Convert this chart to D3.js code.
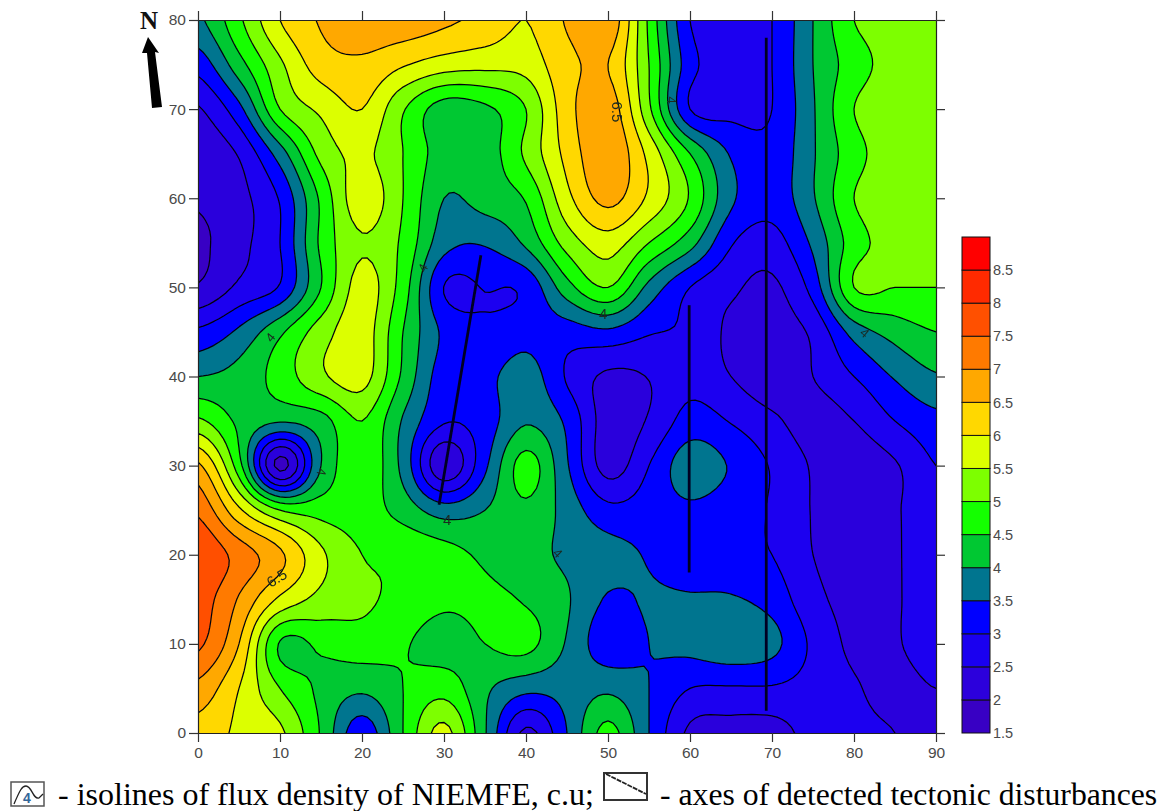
<!DOCTYPE html>
<html><head><meta charset="utf-8">
<script src="https://cdn.jsdelivr.net/npm/d3@7"></script>
<style>html,body{margin:0;padding:0;background:#fff;width:1170px;height:811px;overflow:hidden}</style>
</head><body><svg id="c" width="1170" height="811"></svg>
<script>
const xGrid=[0,5,10,15,20,25,30,35,40,45,50,55,60,65,70,75,80,85,90];
const yGrid=[80,75,70,65,60,55,50,45,40,35,30,25,20,15,10,5,0];
const row80=[3.9,4.9,6.0,6.55,6.8,6.8,6.6,6.35,6.0,6.55,6.9,4.9,3.0,2.8,3.0,4.0,5.0,5.2,5.2];
const row75=[3.2,4.3,5.4,6.25,6.4,6.05,5.75,5.65,5.7,6.35,6.5,5.0,3.2,2.75,3.0,4.0,4.75,5.2,5.2];
const row70=[2.45,3.35,5.0,5.6,6.0,5.05,4.25,4.4,5.0,6.3,6.8,5.1,3.0,2.85,3.0,3.95,5.0,5.3,5.3];
const row65=[2.15,2.55,3.75,5.15,5.6,5.0,4.25,4.25,5.1,6.15,6.9,5.85,4.5,3.45,3.15,3.95,4.8,5.3,5.3];
const row60=[2.05,2.35,3.05,4.6,5.8,5.0,4.0,4.2,4.55,5.85,6.65,5.9,4.95,3.6,3.2,3.95,5.0,5.3,5.3];
const row55=[1.9,2.35,3.0,4.6,5.45,4.9,3.7,3.55,4.1,5.2,5.75,5.0,4.2,3.05,2.8,3.6,4.75,5.2,5.2];
const row50=[2.05,2.6,3.05,4.5,5.7,4.75,2.99,3.02,3.12,4.3,5.0,3.85,3.0,2.6,2.4,3.2,5.0,5.0,5.0];
const row45=[3.1,3.6,4.4,5.25,5.75,4.5,3.4,3.07,3.3,3.25,3.4,3.05,2.9,2.4,2.3,2.6,3.7,4.2,4.5];
const row40=[4.0,4.2,4.7,5.4,5.7,4.4,3.25,3.35,3.75,2.95,2.4,2.52,2.85,2.5,2.2,2.5,3.0,3.55,3.95];
const row35=[5.1,4.4,4.05,4.3,5.0,3.95,3.05,3.25,3.95,3.4,2.25,2.55,3.2,2.97,2.6,2.3,2.5,3.0,3.35];
const row30=[6.6,4.7,1.85,4.0,4.85,3.85,2.1,3.4,4.7,3.55,2.3,3.0,3.8,3.45,2.95,2.45,2.2,2.45,3.0];
const row25=[7.4,6.1,5.0,4.8,4.75,4.3,3.75,4.0,4.4,3.8,3.15,3.25,3.4,3.2,2.95,2.47,2.2,2.45,2.8];
const row20=[7.95,7.3,6.6,5.6,5.0,4.9,4.7,4.4,4.2,3.9,3.7,3.45,3.2,3.1,3.0,2.5,2.3,2.45,2.8];
const row15=[7.75,6.95,5.9,5.35,5.1,4.85,4.6,4.6,4.45,4.05,3.45,3.55,3.55,3.55,3.3,2.65,2.35,2.45,2.8];
const row10=[7.6,6.5,4.45,4.6,4.75,4.55,4.3,4.5,4.65,3.95,3.2,3.5,3.65,3.85,3.65,2.9,2.4,2.45,2.8];
const row05=[6.85,6.0,5.0,4.4,4.1,4.5,4.8,4.1,3.65,3.7,3.9,3.5,3.0,2.95,2.95,2.8,2.55,2.35,2.5];
const row00=[6.3,5.9,5.6,4.45,3.2,4.5,5.65,4.05,2.4,3.5,4.65,3.5,2.4,2.3,2.3,2.65,2.6,2.5,2.3];
const rows=[row80,row75,row70,row65,row60,row55,row50,row45,row40,row35,row30,row25,row20,row15,row10,row05,row00];
const levels=[1.5,2,2.5,3,3.5,4,4.5,5,5.5,6,6.5,7,7.5,8,8.5];
const bandColors=["#3800c4","#2c00dc","#1a00f0","#0000ff","#00758f","#00c832","#14ff00","#7dff00","#dcff00","#ffd800","#ffa800","#ff7a00","#ff5000","#ff2a00","#ff0000"];
const xTicks=[0,10,20,30,40,50,60,70,80,90];
const yTicks=[0,10,20,30,40,50,60,70,80];
const barTicks=[1.5,2,2.5,3,3.5,4,4.5,5,5.5,6,6.5,7,7.5,8,8.5];
const faultA=[[29.4,25.6],[34.5,53.6]];
const faultB=[[59.9,48],[59.9,18]];
const faultC=[[69.3,78],[69.3,2.5]];
const labelText=["6.5","6.5","4","4","4","4","4","4","4","4"];
const labelX=[51.2,9.6,49.4,30.4,57.8,27.4,8.8,15.1,43.9,81.3];
const labelY=[69.7,17.4,47.1,24,71,52.2,44.4,29.3,20.2,44.9];
const labelRot=[90,-32,0,0,90,-60,-50,100,45,40];

const svg=d3.select("#c");
const x=d3.scaleLinear().domain([0,90]).range([198,936]);
const y=d3.scaleLinear().domain([0,80]).range([733,20]);
const bar=d3.scaleLinear().domain([1.5,9]).range([733,237]);

const K=8,nx=xGrid.length,ny=yGrid.length;
const cr=(a,b,c,d,t)=>0.5*(2*b+(c-a)*t+(2*a-5*b+4*c-d)*t*t+(3*b-a-3*c+d)*t*t*t);
const at=(i,j)=>rows[Math.max(0,Math.min(ny-1,j))][Math.max(0,Math.min(nx-1,i))];
function sample(u,v){
  const i=Math.min(nx-2,Math.floor(u)),j=Math.min(ny-2,Math.floor(v)),tu=u-i,tv=v-j;
  const r=[-1,0,1,2].map(dj=>cr(at(i-1,j+dj),at(i,j+dj),at(i+1,j+dj),at(i+2,j+dj),tu));
  return cr(r[0],r[1],r[2],r[3],tv);
}
const fw=(nx-1)*K+1,fh=(ny-1)*K+1,fine=new Float64Array(fw*fh);
for(let b=0;b<fh;b++)for(let a=0;a<fw;a++)fine[b*fw+a]=sample(a/K,b/K);
const contours=d3.contours().size([fw,fh]).thresholds(levels).smooth(true)(fine);
const proj=d3.geoTransform({point(px,py){
  this.stream.point(x((px-0.5)/K*5),y(80-(py-0.5)/K*5));
}});
const path=d3.geoPath(proj);

const defs=svg.append("defs");
defs.append("clipPath").attr("id","plot").append("rect")
  .attr("x",x(0)).attr("y",y(80)).attr("width",x(90)-x(0)).attr("height",y(0)-y(80));
defs.append("filter").attr("id","soft").append("feGaussianBlur").attr("stdDeviation",0.45);

const plot=svg.append("g").attr("clip-path","url(#plot)").append("g").attr("filter","url(#soft)");
plot.append("rect").attr("x",x(0)).attr("y",y(80)).attr("width",x(90)-x(0)).attr("height",y(0)-y(80)).attr("fill",bandColors[0]);
plot.selectAll("path.fill").data(contours).join("path").attr("class","fill")
  .attr("d",path).attr("fill",(d,i)=>bandColors[i]).attr("stroke","none");
plot.selectAll("path.line").data(contours.slice(1)).join("path").attr("class","line")
  .attr("d",path).attr("fill","none").attr("stroke","#06060c").attr("stroke-width",1.25);

const line=d3.line().x(d=>x(d[0])).y(d=>y(d[1]));
plot.selectAll("path.fault").data([faultA,faultB,faultC]).join("path").attr("class","fault")
  .attr("d",line).attr("fill","none").attr("stroke","#000024").attr("stroke-width",2.8);

plot.selectAll("text.cl").data(labelText).join("text").attr("class","cl")
  .attr("transform",(d,i)=>`translate(${x(labelX[i])},${y(labelY[i])}) rotate(${labelRot[i]})`)
  .attr("text-anchor","middle").attr("dy","0.36em")
  .attr("font-family","Liberation Sans, Arial, sans-serif").attr("font-size",(d,i)=>i<4?15:13)
  .attr("fill","#1a2a20").text(d=>d);

function styleAxis(g){
  g.selectAll("path.domain").attr("stroke","#222").attr("stroke-width",1.2);
  g.selectAll(".tick line").attr("stroke","#333").attr("stroke-width",1.2);
  g.selectAll("text").attr("font-family","Liberation Sans, Arial, sans-serif").attr("font-size",15.5).attr("fill","#4a4a4a");
}
svg.append("g").attr("transform",`translate(0,${y(0)})`)
  .call(d3.axisBottom(x).tickValues(xTicks).tickSize(9).tickSizeOuter(0).tickPadding(5).tickFormat(d3.format("d"))).call(styleAxis);
svg.append("g").attr("transform",`translate(0,${y(80)})`)
  .call(d3.axisTop(x).tickValues(xTicks).tickSize(9).tickSizeOuter(0).tickFormat("")).call(styleAxis);
svg.append("g").attr("transform",`translate(${x(0)},0)`)
  .call(d3.axisLeft(y).tickValues(yTicks).tickSize(9).tickSizeOuter(0).tickPadding(3).tickFormat(d3.format("d"))).call(styleAxis);
svg.append("g").attr("transform",`translate(${x(90)},0)`)
  .call(d3.axisRight(y).tickValues(yTicks).tickSize(9).tickSizeOuter(0).tickFormat("")).call(styleAxis);

const cb=svg.append("g");
cb.selectAll("rect").data(levels).join("rect")
  .attr("x",962).attr("width",28)
  .attr("y",d=>bar(d+0.5)).attr("height",d=>bar(d)-bar(d+0.5))
  .attr("fill",(d,i)=>bandColors[i]).attr("stroke","#111").attr("stroke-width",1);
cb.selectAll("text").data(barTicks).join("text")
  .attr("x",993).attr("y",d=>bar(d)).attr("dy","0.36em")
  .attr("font-family","Liberation Sans, Arial, sans-serif").attr("font-size",14.5).attr("fill","#4a4a4a")
  .text(d=>d);

svg.append("text").attr("x",149).attr("y",29).attr("text-anchor","middle")
  .attr("font-family","Liberation Serif, Times New Roman, serif").attr("font-weight","bold").attr("font-size",25).attr("fill","#111").text("N");
svg.append("path").attr("fill","#000")
  .attr("d","M148,37 L159,53 L155,52 L162,107 L152,108 L147,53 L142,53 Z");

const leg=svg.append("g").attr("font-family","Liberation Serif, Times New Roman, serif").attr("font-size",32).attr("fill","#000");
leg.append("text").attr("x",58).attr("y",805).text("- isolines of flux density of NIEMFE, c.u;");
leg.append("text").attr("x",660).attr("y",805).attr("font-size",31.7).text("- axes of detected tectonic disturbances");
leg.append("rect").attr("x",11).attr("y",782).attr("width",33).attr("height",24).attr("fill","#fff").attr("stroke","#555").attr("stroke-width",1.5);
leg.append("path").attr("d","M14,804 C20,790 22,786 26,786 C32,786 33,800 39,798 L43,794").attr("fill","none").attr("stroke","#222").attr("stroke-width",1.3);
leg.append("text").attr("x",27).attr("y",803).attr("text-anchor","middle").attr("font-family","Liberation Sans, Arial, sans-serif").attr("font-size",14).attr("font-weight","bold").attr("fill","#336699").text("4");
leg.append("rect").attr("x",604).attr("y",773).attr("width",43).attr("height",27).attr("fill","#fff").attr("stroke","#333").attr("stroke-width",2);
leg.append("line").attr("x1",606).attr("y1",774).attr("x2",646).attr("y2",794).attr("stroke","#222").attr("stroke-width",1.8).attr("stroke-dasharray","5 1");
</script></body></html>
